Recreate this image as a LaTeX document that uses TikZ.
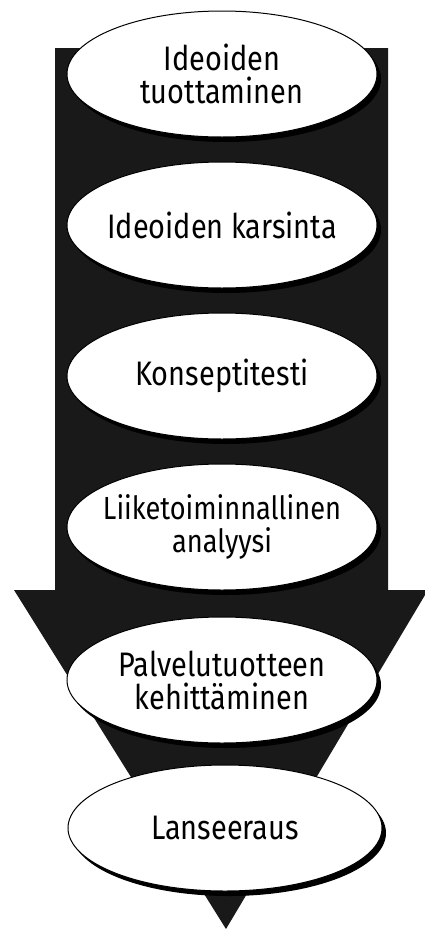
\documentclass[tikz,border=0pt]{standalone}
\usepackage{fontspec}
\setmainfont{Fira Sans}[FakeStretch=0.85]
\usepackage{tikz}
\usetikzlibrary{shapes.geometric, shadows}
\tikzset{>=latex}

\begin{document}
\begin{tikzpicture}[x = 1pt, y = -1pt,
  stage/.style = {ellipse, draw = black, line width = 1pt, fill = white,
    minimum width = 310pt, minimum height = 126pt, inner xsep = -40pt, inner ysep = 0pt, align = center,
    font = \fontsize{34}{33}\selectfont,
    drop shadow = {shadow xshift = 4pt, shadow yshift = -5pt, fill = black, opacity = 1}}]
\useasboundingbox (0,0) rectangle (424,929);
% big arrow
\fill[black!90] (55,48) -- (388,48) -- (388,590) -- (428,590) -- (226,929) -- (14,590) -- (55,590) -- cycle;
% stages
\node[stage] (tuotto) at (222,74) {Ideoiden\\tuottaminen};
\node[stage] (karsinta) at (222,225) {Ideoiden karsinta};
\node[stage] (konsepti) at (222,376) {Konseptitesti};
\node[stage, font = \fontsize{32}{33}\selectfont] (analyysi) at (222,527) {Liiketoiminnallinen\\analyysi};
\node[stage] (kehitys) at (222,680) {Palvelutuotteen\\kehittäminen};
\node[stage, minimum width = 314pt] (lanseeraus) at (225,828) {Lanseeraus};
\end{tikzpicture}
\end{document}
